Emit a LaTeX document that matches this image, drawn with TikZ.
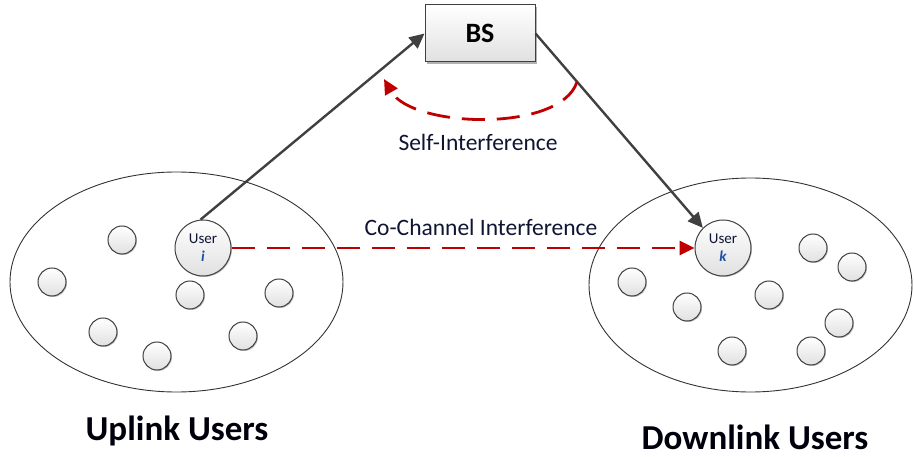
\documentclass[tikz,border=0pt]{standalone}
\usepackage{fontspec}
\setmainfont{Carlito}
\usetikzlibrary{arrows.meta,shapes.geometric,shadows}
\definecolor{linkgray}{RGB}{64,64,64}
\definecolor{intred}{RGB}{192,0,0}
\definecolor{txtblue}{RGB}{15,20,50}
\definecolor{ivblue}{RGB}{31,78,160}
\tikzset{
  grp/.style={ellipse, draw=black!80, line width=0.9pt, inner sep=0pt},
  usr/.style={circle, draw=black!75, line width=1pt, minimum size=28pt, inner sep=0pt,
    top color=white, bottom color=black!12,
    drop shadow={shadow xshift=1pt, shadow yshift=-1pt, opacity=0.25, fill=black}},
  bigusr/.style={usr, minimum size=56pt, font=\fontsize{15}{18}\selectfont, text=txtblue, align=center},
  bsbox/.style={rectangle, draw=black!75, line width=1pt, minimum width=110pt, minimum height=57pt,
    top color=white, bottom color=black!12, font=\fontsize{28}{28}\selectfont\bfseries,
    drop shadow={shadow xshift=2pt, shadow yshift=-2pt, opacity=0.3, fill=black}},
  link/.style={draw=linkgray, line width=2.4pt, -{Triangle[length=15pt,width=14pt]}},
  intf/.style={draw=intred, line width=2.8pt, dash pattern=on 23pt off 12pt, -{Triangle[length=15pt,width=14pt]}},
  lbl/.style={font=\fontsize{23.5}{24}\selectfont, text=txtblue},
  grplbl/.style={font=\fontsize{35}{35}\selectfont\bfseries, text=black!95!blue},
}
\begin{document}
\begin{tikzpicture}[x=1pt,y=-1pt]
\useasboundingbox (0,0) rectangle (914,457);
% groups
\node[grp, minimum width=333pt, minimum height=220pt] (gl) at (176.5,282) {};
\node[grp, minimum width=323pt, minimum height=214pt] (gr) at (750.5,285) {};
% BS
\node[bsbox] (bs) at (480,33.5) {BS};
% users (left)
\node[bigusr] (ui) at (203,248) {User\\\textcolor{ivblue}{\textit{\textbf{i}}}};
\node[usr] (l1) at (122,240) {};
\node[usr] (l2) at (52,282) {};
\node[usr] (l3) at (190,295) {};
\node[usr] (l4) at (279,293) {};
\node[usr] (l5) at (103,332) {};
\node[usr] (l6) at (157,356) {};
\node[usr] (l7) at (243,336) {};
% users (right)
\node[bigusr] (uk) at (723,248) {User\\\textcolor{ivblue}{\textit{\textbf{k}}}};
\node[usr] (r1) at (632,282) {};
\node[usr] (r2) at (687,307) {};
\node[usr] (r3) at (813,248) {};
\node[usr] (r4) at (852,267) {};
\node[usr] (r5) at (769,295) {};
\node[usr] (r6) at (839,323) {};
\node[usr] (r7) at (732,351) {};
\node[usr] (r8) at (811,351) {};
% links
\draw[link] (ui.95) -- (bs.west);
\draw[link] (bs.east) -- (uk.135);
\draw[intf] (ui.east) -- (uk.west);
\coordinate (sis) at (577,82);
\coordinate (sie) at (384,79);
\draw[intf] (sis) .. controls (560,133) and (412,128) .. (sie);
% labels
\node[lbl] (sil) at (478,142) {Self-Interference};
\node[lbl] (ccl) at (481,227) {Co-Channel Interference};
\node[grplbl] (ull) at (177,431) {Uplink Users};
\node[grplbl] (dll) at (755,437) {Downlink Users};
\end{tikzpicture}
\end{document}
